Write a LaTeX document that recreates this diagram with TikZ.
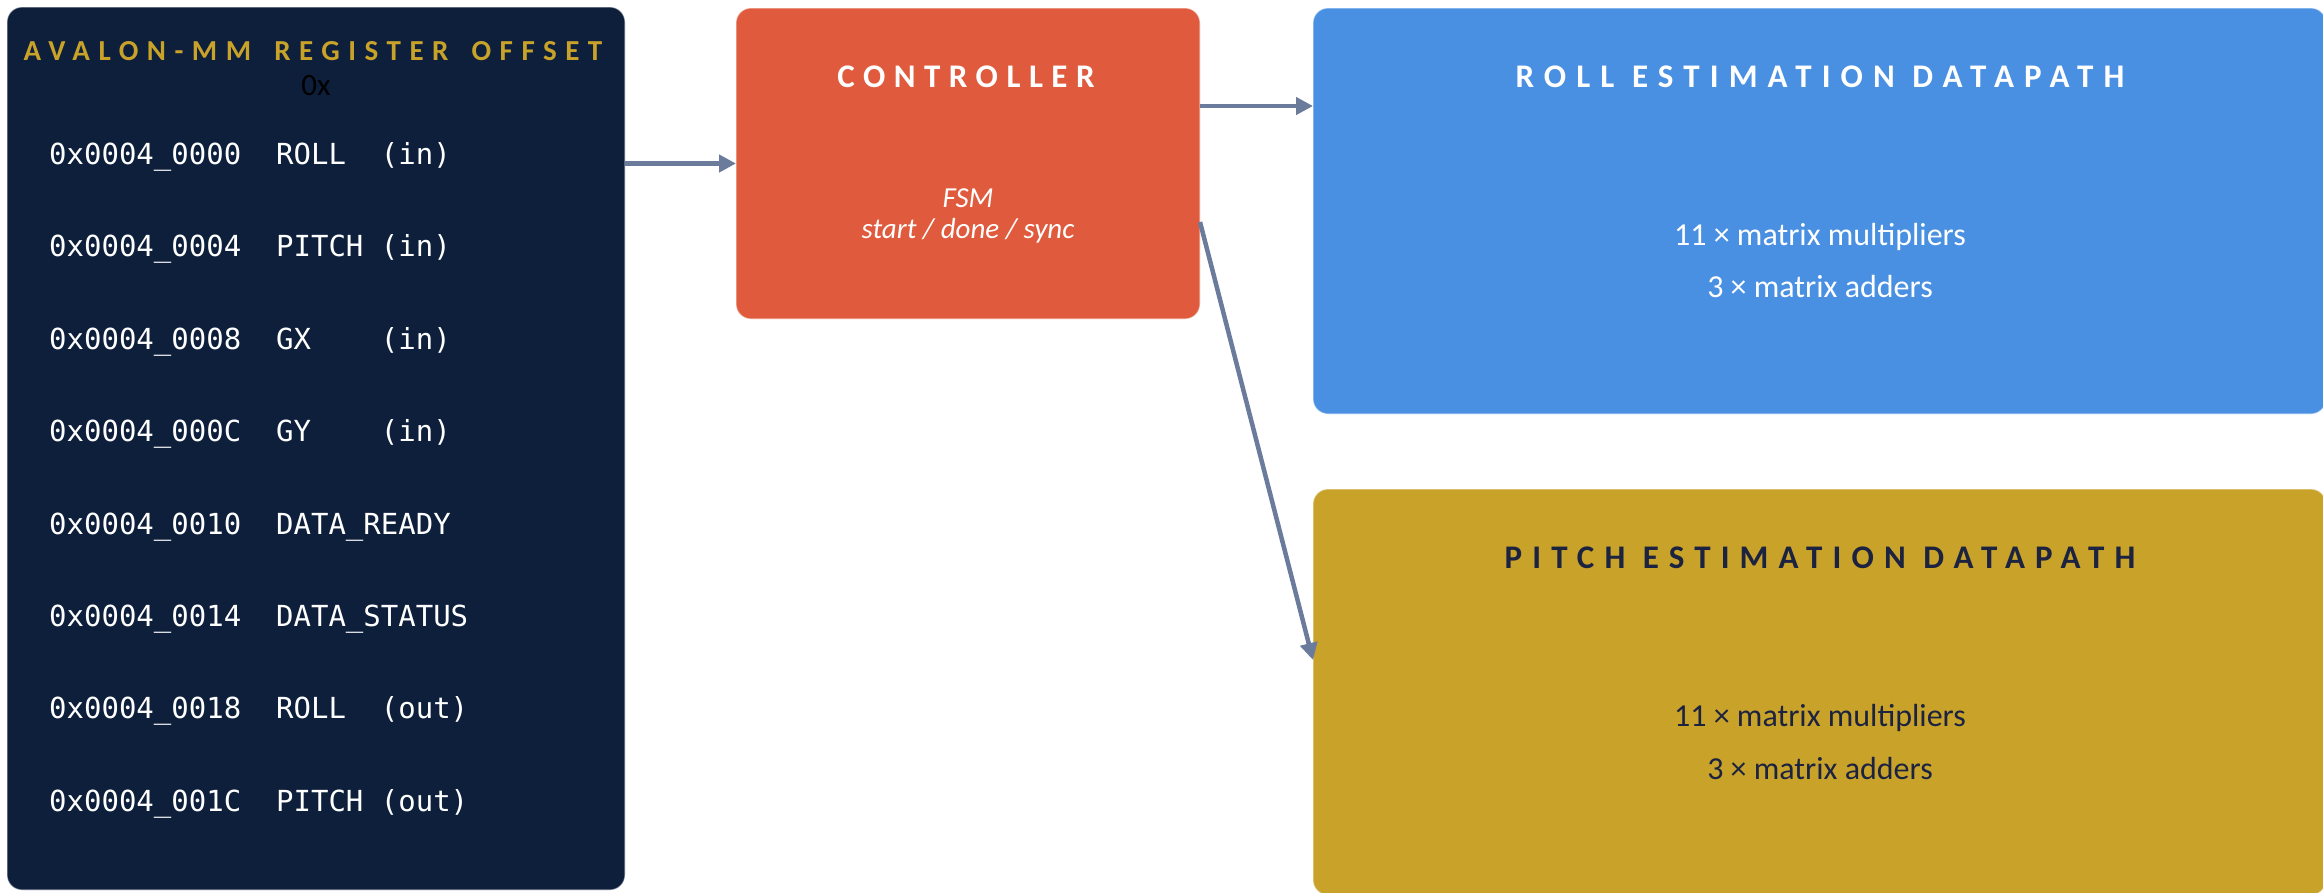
\documentclass[tikz,border=0pt]{standalone}
\usepackage{fontspec}
\setmainfont{Carlito}
\newfontfamily\monofnt{DejaVu Sans Mono}
\newfontfamily\ttlA[LetterSpace=29.4]{Carlito}
\newfontfamily\ttlB[LetterSpace=25.8]{Carlito}
\newfontfamily\ttlC[LetterSpace=30.7]{Carlito}
\usetikzlibrary{arrows.meta}
\definecolor{navy}{HTML}{0D1F3B}
\definecolor{gold}{HTML}{C9A22A}
\definecolor{ctrlc}{HTML}{E05B3D}
\definecolor{rollc}{HTML}{4A90E2}
\definecolor{pitchc}{HTML}{C9A22A}
\definecolor{darktxt}{HTML}{1C2340}
\definecolor{arrowc}{HTML}{6B7B9C}
\begin{document}
\begin{tikzpicture}[x=1pt,y=-1pt,
  box/.style={rounded corners=15pt, inner sep=0pt, outer sep=0pt, draw=white, draw opacity=0.5, line width=1.2pt},
  rowtxt/.style={anchor=base west, inner sep=0pt, text=white, font=\monofnt\fontsize{29}{34}\selectfont},
  ttlfA/.style={inner sep=0pt, font=\ttlA\bfseries\fontsize{29}{34}\selectfont},
  ttlfB/.style={inner sep=0pt, font=\ttlB\bfseries\fontsize{33}{40}\selectfont},
  ttlfC/.style={inner sep=0pt, font=\ttlC\bfseries\fontsize{33}{40}\selectfont},
  bodytxt/.style={inner sep=0pt, font=\fontsize{32}{38}\selectfont},
  itxt/.style={inner sep=0pt, text=white, font=\itshape\fontsize{29}{34}\selectfont},
  conn/.style={draw=arrowc, line width=4.5pt, -{Triangle[length=17pt,width=17pt]}}
]
\useasboundingbox (0,0) rectangle (2323,892);
\fill[white] (0,0) rectangle (2323,892);

% boxes
\node[box, fill=navy, minimum width=618pt, minimum height=883pt] (reg) at (316,448.5) {};
\node[box, fill=ctrlc, minimum width=464pt, minimum height=311pt] (ctrl) at (968,163.5) {};
\node[box, fill=rollc, minimum width=1013pt, minimum height=406pt] (roll) at (1819.5,211) {};
\node[box, fill=pitchc, minimum width=1013pt, minimum height=406pt] (pitch) at (1819.5,692) {};

% register box text
\node[ttlfA, text=gold] (regtitle) at (313,51) {AVALON-MM\hspace{8pt} REGISTER\hspace{8pt} OFFSET};
\node[inner sep=0pt, text=black, font=\fontsize{31}{36}\selectfont] (hex) at (316,86) {0x};
\node[rowtxt] (row1) at (49,164.5) {0x0004\_0000~~ROLL~~(in)};
\node[rowtxt] (row2) at (49,256.9) {0x0004\_0004~~PITCH~(in)};
\node[rowtxt] (row3) at (49,349.3) {0x0004\_0008~~GX~~~~(in)};
\node[rowtxt] (row4) at (49,441.7) {0x0004\_000C~~GY~~~~(in)};
\node[rowtxt] (row5) at (49,534.1) {0x0004\_0010~~DATA\_READY};
\node[rowtxt] (row6) at (49,626.5) {0x0004\_0014~~DATA\_STATUS};
\node[rowtxt] (row7) at (49,718.9) {0x0004\_0018~~ROLL~~(out)};
\node[rowtxt] (row8) at (49,811.3) {0x0004\_001C~~PITCH~(out)};

% controller text
\node[ttlfB, text=white] (ctrltitle) at (966,77) {CONTROLLER};
\node[itxt] (fsm) at (968,198) {FSM};
\node[itxt] (fsmsig) at (968,231) {start / done / sync};

% roll text
\node[ttlfC, text=white] (rolltitle) at (1820,77) {ROLL ESTIMATION DATAPATH};
\node[bodytxt, text=white] (rollmul) at (1820,237) {11 × matrix multipliers};
\node[bodytxt, text=white] (rolladd) at (1820,287) {3 × matrix adders};

% pitch text
\node[ttlfC, text=darktxt] (pitchtitle) at (1820,558) {PITCH ESTIMATION DATAPATH};
\node[bodytxt, text=darktxt] (pitchmul) at (1820,718) {11 × matrix multipliers};
\node[bodytxt, text=darktxt] (pitchadd) at (1820,768) {3 × matrix adders};

% connectors
\coordinate (c2r) at ([yshift=57.5pt]ctrl.east);
\coordinate (c2p) at ([yshift=-58.5pt]ctrl.east);
\coordinate (pin) at ([yshift=32pt]pitch.west);
\draw[conn] (reg.east |- ctrl.west) -- (ctrl.west);
\draw[conn] (c2r) -- (roll.west |- c2r);
\draw[conn] (c2p) -- (pin);
\end{tikzpicture}
\end{document}
